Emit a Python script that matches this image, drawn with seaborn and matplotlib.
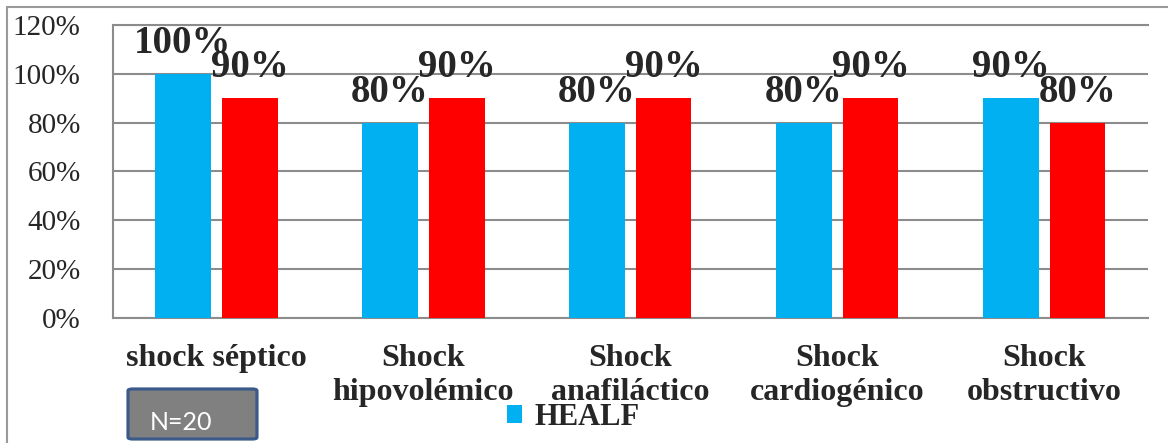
import matplotlib
matplotlib.use("Agg")
import matplotlib.pyplot as plt
from matplotlib.patches import Rectangle, FancyBboxPatch
from matplotlib.font_manager import FontProperties
import seaborn as sns
import pandas as pd

# Shock types and the share of cases for each of the two series
categories = ["shock séptico", "Shock\nhipovolémico", "Shock\nanafiláctico",
              "Shock\ncardiogénico", "Shock\nobstructivo"]
healf_pct = [100, 80, 80, 80, 90]
second_pct = [90, 90, 90, 90, 80]
series_names = ["HEALF", "serie 2"]
series_colors = ["#00B0F0", "#FF0000"]
y_ticks = [0, 20, 40, 60, 80, 100, 120]
sample_note = "N=20"

sns.set_style("white")
serif = ["Liberation Serif", "DejaVu Serif"]
plt.rcParams["font.family"] = serif

df = pd.DataFrame({
    "tipo": categories * 2,
    "serie": [series_names[0]] * len(categories) + [series_names[1]] * len(categories),
    "valor": healf_pct + second_pct,
})

fig = plt.figure(figsize=(11.68, 4.43), dpi=100)
ax = fig.add_axes([0.0965, 0.2828, 0.8861, 0.6608])

sns.barplot(data=df, x="tipo", y="valor", hue="serie", palette=series_colors,
            width=0.647, gap=0.169, saturation=1, ax=ax, legend=True,
            errorbar=None, linewidth=0, edgecolor="none", zorder=3)

ax.set_ylim(0, 120)
ax.set_xlim(-0.5, len(categories) - 0.5)
ax.set_yticks(y_ticks)
ax.set_yticklabels([f"{t}%" for t in y_ticks], fontsize=21)
ax.tick_params(axis="y", length=0, pad=23)
ax.tick_params(axis="x", length=0, pad=19)
ax.set_xticks(range(len(categories)))
ax.set_xticklabels(categories, fontsize=23, fontweight="bold", linespacing=1.22)
ax.set_xlabel("")
ax.set_ylabel("")

grid_gray = "#8c8c8c"
ax.yaxis.grid(True, color=grid_gray, linewidth=1.5, zorder=0)
ax.set_axisbelow(True)
for side in ["left", "bottom", "top"]:
    ax.spines[side].set_color(grid_gray)
    ax.spines[side].set_linewidth(1.5)
ax.spines["right"].set_visible(False)

# Value labels above each bar
for container, vals in zip(ax.containers, [healf_pct, second_pct]):
    for bar, v in zip(container, vals):
        ax.annotate(f"{v}%", (bar.get_x() + bar.get_width() / 2, v),
                    xytext=(0, 15), textcoords="offset points",
                    ha="center", va="baseline", fontsize=28,
                    fontweight="bold", zorder=5, annotation_clip=False)

# Legend shows only the first series
handles, labels = ax.get_legend_handles_labels()
ax.legend(handles[:1], labels[:1], loc="center",
          bbox_to_anchor=(0.4906, 0.058), bbox_transform=fig.transFigure,
          frameon=False, prop=FontProperties(family=serif, weight="bold", size=22),
          handlelength=0.49, handleheight=0.49, handletextpad=0.4,
          borderpad=0, borderaxespad=0)

# Outer chart frame
fig.patches.append(Rectangle((0.0057, -0.2), 2.0, 1.185,
                             transform=fig.transFigure, fill=False,
                             edgecolor="#9a9a9a", linewidth=1.5))

# Sample size box
fig.patches.append(FancyBboxPatch((0.1096, 0.0090), 0.1104, 0.1129,
                                  boxstyle="round,pad=0,rounding_size=0.004",
                                  transform=fig.transFigure,
                                  facecolor="#808080", edgecolor="#3B5A89",
                                  linewidth=2.3))
fig.text(0.1284, 0.0293, sample_note, color="white", fontsize=18,
         family=["Lato", "DejaVu Sans"], ha="left", va="baseline")

fig.savefig("out.png", dpi=100)
